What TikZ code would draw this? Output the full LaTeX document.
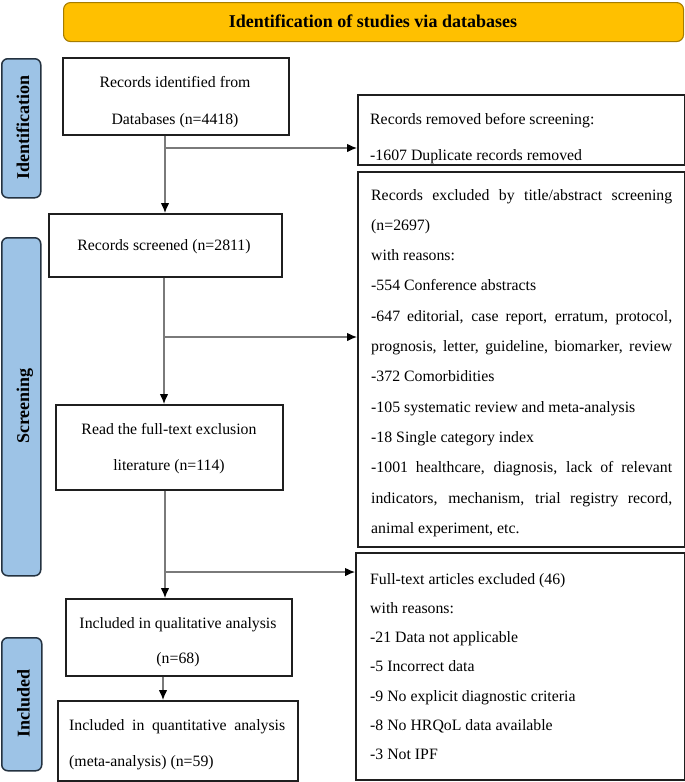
\documentclass[tikz,border=0pt]{standalone}
\usepackage{fontspec}
\setmainfont{Liberation Serif}
\usetikzlibrary{arrows.meta}
\definecolor{gold}{HTML}{FFC000}
\definecolor{goldline}{HTML}{A67C00}
\definecolor{sideblue}{HTML}{9DC3E6}
\definecolor{sideline}{HTML}{243240}
\definecolor{connc}{HTML}{7A7A7A}
\definecolor{boxline}{HTML}{1F1F1F}
\newcommand\Jline[2]{\hbox to #1{\spaceskip=0.25em plus 1fil\relax #2}}
\newcommand\Cline[2]{\hbox to #1{\hfil #2\hfil}}
\newcommand\Lline[1]{\hbox{#1}}
\begin{document}
\begin{tikzpicture}[x=1pt,y=-1pt,
  boxnode/.style={draw=boxline, line width=1.6pt, fill=white, anchor=north west, inner sep=0pt},
  sidenode/.style={draw=sideline, line width=1.5pt, fill=sideblue, rounded corners=6pt, anchor=north west, inner sep=0pt},
  sidetext/.style={rotate=90, anchor=base, inner sep=0pt, font=\fontsize{18pt}{20pt}\selectfont\bfseries},
  txt/.style={inner sep=0pt, font=\fontsize{15.8pt}{19pt}\selectfont},
  connarrow/.style={draw=connc, line width=1.1pt, -{Latex[length=10pt,width=8.5pt,color=black]}}
]
\useasboundingbox (0,0) rectangle (685,782);

% banner
\node[draw=goldline, line width=1.1pt, fill=gold, rounded corners=7pt, anchor=north west, inner sep=0pt,
      minimum width=620pt, minimum height=39pt] (banner) at (63,2) {};
\node[inner sep=0pt, anchor=base, font=\fontsize{18pt}{20pt}\selectfont\bfseries] (bannertext) at (373,27)
  {Identification of studies via databases};

% side labels
\node[sidenode, minimum width=39pt, minimum height=139pt] (sid) at (1,58) {};
\node[sidetext] (sidt) at (29,127.5) {Identification};
\node[sidenode, minimum width=39pt, minimum height=338pt] (ssc) at (1,237) {};
\node[sidetext] (ssct) at (29,406) {Screening};
\node[sidenode, minimum width=40pt, minimum height=133pt] (sin) at (1,637) {};
\node[sidetext] (sint) at (29.5,703.5) {Included};

% left column boxes
\node[boxnode, minimum width=226pt, minimum height=77pt] (b1) at (62,57) {};
\node[txt, anchor=base] (b1t) at (175,87.5)
  {\vtop{\baselineskip=37pt \Cline{200pt}{Records identified from}\Cline{200pt}{Databases (n=4418)}}};

\node[boxnode, minimum width=233pt, minimum height=63pt] (b2) at (48,213) {};
\node[txt, anchor=base] (b2t) at (164,250) {Records screened (n=2811)};

\node[boxnode, minimum width=227pt, minimum height=85pt] (b3) at (55,404) {};
\node[txt, anchor=base] (b3t) at (169,434)
  {\vtop{\baselineskip=36pt \Cline{200pt}{Read the full-text exclusion}\Cline{200pt}{literature (n=114)}}};

\node[boxnode, minimum width=226pt, minimum height=77pt] (b4) at (65,598) {};
\node[txt, anchor=base] (b4t) at (178,628)
  {\vtop{\baselineskip=35pt \Cline{210pt}{Included in qualitative analysis}\Cline{210pt}{(n=68)}}};

\node[boxnode, minimum width=240pt, minimum height=80pt] (b5) at (57,700) {};
\node[txt, anchor=base west] (b5t) at (69,730)
  {\vtop{\baselineskip=36pt \Jline{216pt}{Included in quantitative analysis}\Lline{(meta-analysis) (n=59)}}};

% right column boxes
\node[boxnode, minimum width=327pt, minimum height=70pt] (rm) at (357,94) {};
\node[txt, anchor=base west] (rmt) at (370,124)
  {\vtop{\baselineskip=36pt \Lline{Records removed before screening:}\Lline{-1607 Duplicate records removed}}};

\node[boxnode, minimum width=327pt, minimum height=375pt] (ex) at (357,171) {};
\node[txt, anchor=base west] (ext) at (371,200)
  {\vtop{\baselineskip=30.3pt
   \Jline{301pt}{Records excluded by title/abstract screening}
   \Lline{(n=2697)}
   \Lline{with reasons:}
   \Lline{-554 Conference abstracts}
   \Jline{301pt}{-647 editorial, case report, erratum, protocol,}
   \Jline{301pt}{prognosis, letter, guideline, biomarker, review}
   \Lline{-372 Comorbidities}
   \Lline{-105 systematic review and meta-analysis}
   \Lline{-18 Single category index}
   \Jline{301pt}{-1001 healthcare, diagnosis, lack of relevant}
   \Jline{301pt}{indicators, mechanism, trial registry record,}
   \Lline{animal experiment, etc.}}};

\node[boxnode, minimum width=329pt, minimum height=227pt] (ft) at (355,552) {};
\node[txt, anchor=base west] (ftt) at (370,584)
  {\vtop{\baselineskip=29.3pt
   \Lline{Full-text articles excluded (46)}
   \Lline{with reasons:}
   \Lline{-21 Data not applicable}
   \Lline{-5 Incorrect data}
   \Lline{-9 No explicit diagnostic criteria}
   \Lline{-8 No HRQoL data available}
   \Lline{-3 Not IPF}}};

% connectors
\coordinate (c1) at (165,148);
\coordinate (c2) at (164,337);
\coordinate (c3) at (165,572);
\coordinate (c4) at (163,687);
\draw[connarrow] (b1.south -| c1) -- (b2.north -| c1);
\draw[connarrow] (c1) -- (c1 -| rm.west);
\draw[connarrow] (b2.south -| c2) -- (b3.north -| c2);
\draw[connarrow] (c2) -- (c2 -| ex.west);
\draw[connarrow] (b3.south -| c3) -- (b4.north -| c3);
\draw[connarrow] (c3) -- (c3 -| ft.west);
\draw[connarrow] (b4.south -| c4) -- (b5.north -| c4);
\end{tikzpicture}
\end{document}
